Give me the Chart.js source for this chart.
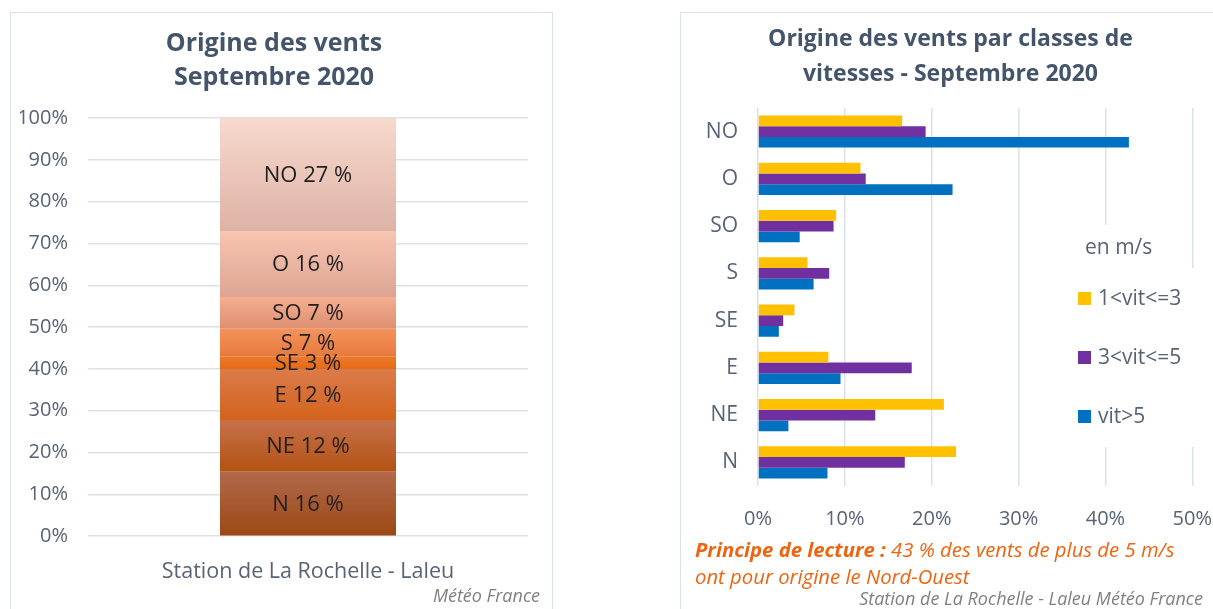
<!DOCTYPE html>
<html>
<head>
<meta charset="utf-8">
<script src="https://cdn.jsdelivr.net/npm/chart.js@4"></script>
<style>
  body { margin: 0; background: #fff; width: 1213px; height: 609px; overflow: hidden; position: relative; font-family: "Open Sans", sans-serif; }
  .panel { position: absolute; border: 1.5px solid #DCE1E8; box-sizing: border-box; }
  .wrap { position: absolute; }
  .note { position: absolute; white-space: nowrap; }
</style>
</head>
<body>
<div class="panel" style="left:10px;top:12px;width:543px;height:610px;"></div>
<div class="panel" style="left:680px;top:12px;width:560px;height:610px;"></div>

<div class="wrap" style="left:10px;top:12px;width:542px;height:597px;"><canvas id="left"></canvas></div>
<div class="wrap" style="left:680px;top:12px;width:553px;height:597px;"><canvas id="right"></canvas></div>

<div class="note" style="right:673px;top:583px;font-size:18px;font-style:italic;color:#808080;">Météo France</div>
<div class="note" style="left:695px;top:536px;font-size:20.3px;font-style:italic;color:#EE6411;line-height:27px;">
  <b>Principe de lecture :</b> 43 % des vents de plus de 5 m/s<br>ont pour origine le Nord-Ouest
</div>
<div class="note" style="right:10px;top:586px;font-size:18px;font-style:italic;color:#808080;">Station de La Rochelle - Laleu Météo France</div>

<script>
/* Origine des vents - La Rochelle, septembre 2020 */

// répartition globale (de bas en haut de la barre empilée)
const directions = ['N', 'NE', 'E', 'SE', 'S', 'SO', 'O', 'NO'];
const parts = [15.4, 12.4, 12.2, 2.9, 6.7, 7.6, 15.8, 27.0];
const partsShown = [16, 12, 12, 3, 7, 7, 16, 27];
const station = 'Station de La Rochelle - Laleu';
const pctTicks = [0, 10, 20, 30, 40, 50, 60, 70, 80, 90, 100];

// par classes de vitesse (de haut en bas)
const categories = ['NO', 'O', 'SO', 'S', 'SE', 'E', 'NE', 'N'];
const vit1a3 = [16.6, 11.8, 9.0, 5.7, 4.2, 8.1, 21.4, 22.8];
const vit3a5 = [19.3, 12.4, 8.7, 8.2, 2.9, 17.7, 13.5, 16.9];
const vitSup5 = [42.7, 22.4, 4.8, 6.4, 2.4, 9.5, 3.5, 8.0];
const classLabels = ['1<vit<=3', '3<vit<=5', 'vit>5'];
const classColors = ['#FFC000', '#7030A0', '#0070C0'];

// dégradés des segments : [haut, bas]
const segColors = [
  ['#B2694B', '#9B4813'],
  ['#C6714A', '#B35314'],
  ['#DB7B4B', '#D3631C'],
  ['#EC7A2C', '#E56A16'],
  ['#F3935C', '#E8793C'],
  ['#F4AE90', '#DE8F70'],
  ['#F8C5B1', '#DBA592'],
  ['#F8D9CD', '#DDB3A6']
];

const TITLE = '#44546A';
const TICK = '#586375';
const GRID = '#DCE1E8';

Chart.defaults.font.family = '"Open Sans", sans-serif';

function segGradient(c) {
  const chart = c.chart;
  const i = c.datasetIndex;
  const cols = segColors[i];
  const y = chart.scales.y;
  if (!chart.chartArea || !y) return cols[1];
  const base = parts.slice(0, i).reduce((a, b) => a + b, 0);
  const top = y.getPixelForValue(base + parts[i]);
  const bottom = y.getPixelForValue(base);
  const g = chart.ctx.createLinearGradient(0, top, 0, bottom);
  g.addColorStop(0, cols[0]);
  g.addColorStop(1, cols[1]);
  return g;
}

// étiquettes "N 16 %" au centre des segments
const segLabels = {
  id: 'segLabels',
  afterDatasetsDraw(chart) {
    const ctx = chart.ctx;
    ctx.save();
    ctx.font = '22px "Open Sans", sans-serif';
    ctx.fillStyle = '#1F1F1F';
    ctx.textAlign = 'center';
    ctx.textBaseline = 'middle';
    chart.data.datasets.forEach((ds, i) => {
      const bar = chart.getDatasetMeta(i).data[0];
      ctx.fillText(directions[i] + ' ' + partsShown[i] + ' %', bar.x, (bar.y + bar.base) / 2 + 1);
    });
    ctx.restore();
  }
};

new Chart(document.getElementById('left'), {
  type: 'bar',
  data: {
    labels: [station],
    datasets: directions.map((d, i) => ({
      label: d,
      data: [parts[i]],
      backgroundColor: segGradient,
      borderWidth: 0,
      barPercentage: 0.4,
      categoryPercentage: 1
    }))
  },
  options: {
    responsive: true,
    maintainAspectRatio: false,
    animation: false,
    layout: { padding: { left: 10, right: 24, top: 0, bottom: 9 } },
    plugins: {
      legend: { display: false },
      tooltip: { enabled: false },
      title: {
        display: true,
        text: ['Origine des vents', 'Septembre 2020'],
        color: TITLE,
        font: { size: 25, weight: 'bold', lineHeight: 1.36 },
        padding: { top: 15, bottom: 23 }
      }
    },
    scales: {
      x: {
        stacked: true,
        grid: { display: false },
        border: { display: false },
        ticks: { color: TICK, font: { size: 21.5 }, padding: 15 }
      },
      y: {
        stacked: true,
        min: 0,
        max: 100,
        afterBuildTicks: s => { s.ticks = pctTicks.map(v => ({ value: v })); },
        afterFit: s => { s.width = 68; },
        grid: { color: GRID, lineWidth: 1.5, drawTicks: false },
        border: { display: false },
        ticks: { color: TICK, font: { size: 20 }, padding: 20, callback: v => v + '%' }
      }
    }
  },
  plugins: [segLabels]
});

// légende maison posée dans la zone de tracé, sur fond blanc
const boxLegend = {
  id: 'boxLegend',
  afterDraw(chart) {
    const ctx = chart.ctx;
    const x0 = 1070 - 680;
    ctx.save();
    ctx.fillStyle = '#fff';
    ctx.fillRect(x0, 225 - 12, 120, 45);
    ctx.fillRect(x0, 268 - 12, 135, 179);
    ctx.font = '21px "Open Sans", sans-serif';
    ctx.textBaseline = 'middle';
    ctx.fillStyle = TICK;
    ctx.fillText('en m/s', 1085 - 680, 248 - 12);
    const ys = [299, 358, 417];
    chart.data.datasets.forEach((ds, i) => {
      const y = ys[i] - 12;
      ctx.fillStyle = ds.backgroundColor;
      ctx.fillRect(1078 - 680, y - 7, 13, 13);
      ctx.fillStyle = TICK;
      ctx.fillText(ds.label, 1098 - 680, y);
    });
    ctx.restore();
  }
};

const series = [vit1a3, vit3a5, vitSup5];

new Chart(document.getElementById('right'), {
  type: 'bar',
  data: {
    labels: categories,
    datasets: series.map((s, i) => ({
      label: classLabels[i],
      data: s,
      backgroundColor: classColors[i],
      borderWidth: 0,
      barPercentage: 1,
      categoryPercentage: 0.68
    }))
  },
  options: {
    indexAxis: 'y',
    responsive: true,
    maintainAspectRatio: false,
    animation: false,
    layout: { padding: { left: -12, right: 0, top: 0, bottom: 57 } },
    plugins: {
      legend: { display: false },
      tooltip: { enabled: false },
      title: {
        display: true,
        text: ['Origine des vents par classes de', 'vitesses - Septembre 2020'],
        color: TITLE,
        font: { size: 23, weight: 'bold', lineHeight: 1.52 },
        padding: { top: 10, bottom: 16 }
      }
    },
    scales: {
      x: {
        min: 0,
        max: 50,
        ticks: { stepSize: 10, color: TICK, font: { size: 20 }, padding: 21, callback: v => v + '%' },
        grid: { color: GRID, lineWidth: 1.5, drawTicks: false },
        border: { display: false }
      },
      y: {
        afterFit: s => { s.width = 90; },
        grid: { display: false },
        border: { display: false },
        ticks: { color: TICK, font: { size: 21 }, padding: 12 }
      }
    }
  },
  plugins: [boxLegend]
});
</script>
</body>
</html>
